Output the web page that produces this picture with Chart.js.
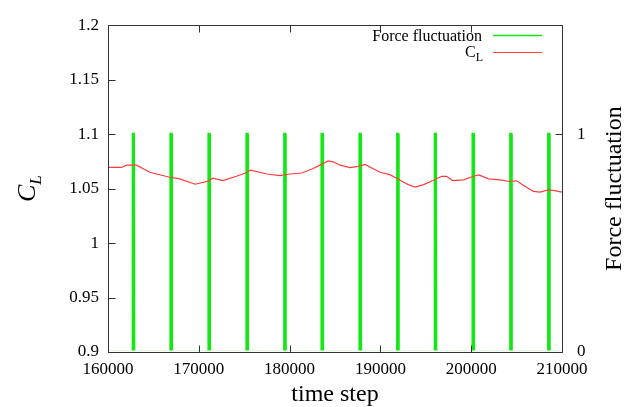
<!DOCTYPE html>
<html>
<head>
<meta charset="utf-8">
<script src="https://cdn.jsdelivr.net/npm/chart.js@4.4.1/dist/chart.umd.min.js"></script>
<style>
  html, body { margin: 0; padding: 0; background: #fff; }
  #wrap { width: 626px; height: 407px; }
</style>
</head>
<body>
<div id="wrap"><canvas id="c" width="626" height="407"></canvas></div>
<script>
// ---- data ----
const xTicks = [160000, 170000, 180000, 190000, 200000, 210000];
const yTicks = [0.9, 0.95, 1.0, 1.05, 1.1, 1.15, 1.2];
const y2Ticks = [0, 1];

const clSteps = [160000, 161500, 162050, 163150, 164600, 166800, 167900, 169600, 171050,
  171550, 172650, 174150, 175150, 175700, 177500, 178950, 180050, 181350, 182600, 183550,
  184250, 184800, 185550, 186650, 187550, 188300, 189950, 191050, 191950, 192900, 193800,
  194700, 195800, 196750, 197300, 197950, 199150, 200250, 200850, 201900, 203150, 204250,
  205000, 206100, 206850, 207600, 208500, 209050, 210000];
const clValues = [1.0694, 1.0694, 1.0715, 1.0715, 1.0650, 1.0604, 1.0589, 1.0540, 1.0568,
  1.0595, 1.0574, 1.0613, 1.0643, 1.0670, 1.0634, 1.0620, 1.0634, 1.0643, 1.0685, 1.0725,
  1.0755, 1.0746, 1.0715, 1.0692, 1.0704, 1.0722, 1.0650, 1.0628, 1.0589, 1.0543, 1.0513,
  1.0534, 1.0574, 1.0613, 1.0613, 1.0574, 1.0580, 1.0613, 1.0625, 1.0589, 1.0580, 1.0565,
  1.0571, 1.0513, 1.0474, 1.0468, 1.0489, 1.0483, 1.0468];

const forceSteps = [160000,
  162710, 162750, 162830, 162870,
  166860, 166900, 166980, 167020,
  171050, 171090, 171170, 171210,
  175230, 175270, 175350, 175390,
  179390, 179430, 179510, 179550,
  183500, 183540, 183620, 183660,
  187680, 187720, 187800, 187840,
  191830, 191870, 191950, 191990,
  195970, 196010, 196090, 196130,
  200130, 200170, 200250, 200290,
  204280, 204320, 204400, 204440,
  208460, 208500, 208580, 208620,
  210000];
const forceValues = [0,
  0, 1, 1, 0,
  0, 1, 1, 0,
  0, 1, 1, 0,
  0, 1, 1, 0,
  0, 1, 1, 0,
  0, 1, 1, 0,
  0, 1, 1, 0,
  0, 1, 1, 0,
  0, 1, 1, 0,
  0, 1, 1, 0,
  0, 1, 1, 0,
  0, 1, 1, 0,
  0];

// ---- styling ----
const SERIF = '"Liberation Serif", "Times New Roman", serif';
const RED = '#ff3b3b';
const GREEN = '#14e814';
const FRAME = '#333333';

const tickFont = { family: SERIF, size: 17 };

function setTicks(arr) {
  return function (scale) { scale.ticks = arr.map(v => ({ value: v })); };
}
function fmt(v) { return String(Math.round(v * 100) / 100); }

const framePlugin = {
  id: 'frame',
  afterDatasetsDraw(chart) {
    const ctx = chart.ctx;
    const a = chart.chartArea;
    const L = Math.round(a.left) + 0.5, R = Math.round(a.right) + 0.5;
    const T = Math.round(a.top) + 0.5, B = Math.round(a.bottom) + 0.5;
    const sx = chart.scales.x, sy = chart.scales.y, sy2 = chart.scales.y2;
    const tl = 7;
    ctx.save();
    ctx.strokeStyle = FRAME;
    ctx.lineWidth = 1;
    ctx.beginPath();
    ctx.rect(L, T, R - L, B - T);
    xTicks.forEach(v => {
      const p = Math.round(sx.getPixelForValue(v)) + 0.5;
      ctx.moveTo(p, B); ctx.lineTo(p, B - tl);
      ctx.moveTo(p, T); ctx.lineTo(p, T + tl);
    });
    yTicks.forEach(v => {
      const p = Math.round(sy.getPixelForValue(v)) + 0.5;
      ctx.moveTo(L, p); ctx.lineTo(L + tl, p);
    });
    y2Ticks.forEach(v => {
      const p = Math.round(sy2.getPixelForValue(v)) + 0.5;
      ctx.moveTo(R, p); ctx.lineTo(R - tl, p);
    });
    ctx.stroke();

    ctx.fillStyle = '#000';
    ctx.font = '24px ' + SERIF;
    ctx.textAlign = 'center';
    ctx.textBaseline = 'alphabetic';
    ctx.fillText('time step', (a.left + a.right) / 2, 401);

    ctx.save();
    ctx.translate(621, (a.top + a.bottom) / 2);
    ctx.rotate(-Math.PI / 2);
    ctx.textAlign = 'center';
    ctx.fillText('Force fluctuation', 0, 0);
    ctx.restore();

    ctx.save();
    ctx.font = 'italic 26px ' + SERIF;
    const cw = ctx.measureText('C').width;
    ctx.font = 'italic 17px ' + SERIF;
    const lw = ctx.measureText('L').width;
    const total = cw + lw;
    ctx.translate(35, (a.top + a.bottom) / 2 + total / 2);
    ctx.rotate(-Math.PI / 2);
    ctx.textAlign = 'left';
    ctx.font = 'italic 26px ' + SERIF;
    ctx.fillText('C', 0, 0);
    ctx.font = 'italic 17px ' + SERIF;
    ctx.fillText('L', cw, 6);
    ctx.restore();

    ctx.font = '16px ' + SERIF;
    ctx.textAlign = 'right';
    ctx.fillText('Force fluctuation', 482, 41);
    ctx.font = '12px ' + SERIF;
    const lw2 = ctx.measureText('L').width;
    ctx.font = '16px ' + SERIF;
    const cw2 = ctx.measureText('C').width;
    ctx.textAlign = 'left';
    ctx.fillText('C', 483 - lw2 - cw2, 57);
    ctx.font = '12px ' + SERIF;
    ctx.fillText('L', 483 - lw2, 61);

    ctx.lineWidth = 1.5;
    ctx.strokeStyle = GREEN;
    ctx.beginPath(); ctx.moveTo(493, 35.5); ctx.lineTo(542, 35.5); ctx.stroke();
    ctx.strokeStyle = RED;
    ctx.lineWidth = 1.2;
    ctx.beginPath(); ctx.moveTo(493, 52.5); ctx.lineTo(542, 52.5); ctx.stroke();
    ctx.restore();
  }
};

new Chart(document.getElementById('c').getContext('2d'), {
  type: 'line',
  data: {
    datasets: [
      {
        label: 'CL',
        data: clSteps.map((x, i) => ({ x: x, y: clValues[i] })),
        yAxisID: 'y',
        borderColor: RED,
        borderWidth: 1.2,
        pointRadius: 0,
        tension: 0,
        fill: false
      },
      {
        label: 'Force fluctuation',
        data: forceSteps.map((x, i) => ({ x: x, y: forceValues[i] })),
        yAxisID: 'y2',
        borderColor: GREEN,
        borderWidth: 2.6,
        pointRadius: 0,
        tension: 0,
        fill: false,
        clip: { left: 0, top: 0, right: 0, bottom: -1.5 }
      }
    ]
  },
  options: {
    responsive: false,
    animation: false,
    devicePixelRatio: 1,
    layout: { padding: { top: 21, left: 0, right: 0, bottom: 0 } },
    plugins: { legend: { display: false }, tooltip: { enabled: false }, title: { display: false } },
    scales: {
      x: {
        type: 'linear', position: 'bottom', min: 160000, max: 210000,
        afterBuildTicks: setTicks(xTicks),
        ticks: { callback: v => String(v), font: tickFont, color: '#000', padding: 7, maxRotation: 0, autoSkip: false },
        grid: { display: false, drawTicks: false },
        border: { display: false },
        afterFit: s => { s.height = 55; }
      },
      y: {
        type: 'linear', position: 'left', min: 0.9, max: 1.2,
        afterBuildTicks: setTicks(yTicks),
        ticks: { callback: v => fmt(v), font: tickFont, color: '#000', padding: 9, autoSkip: false },
        grid: { display: false, drawTicks: false },
        border: { display: false },
        afterFit: s => { s.width = 108; }
      },
      y2: {
        type: 'linear', position: 'right', min: 0, max: 1.5,
        afterBuildTicks: setTicks(y2Ticks),
        ticks: { callback: v => fmt(v), font: tickFont, color: '#000', padding: 15, autoSkip: false },
        grid: { display: false, drawTicks: false },
        border: { display: false },
        afterFit: s => { s.width = 64; }
      }
    }
  },
  plugins: [framePlugin]
});
</script>
</body>
</html>
